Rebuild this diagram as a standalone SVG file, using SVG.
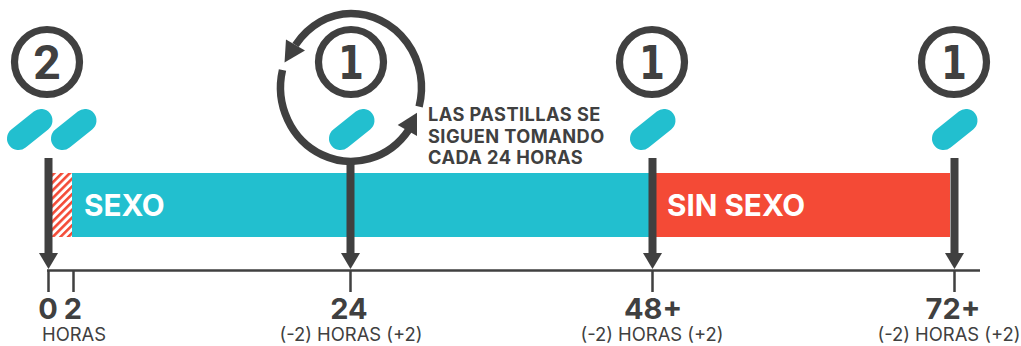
<svg xmlns="http://www.w3.org/2000/svg" width="1021" height="346" viewBox="0 0 1021 346">
<style>
text{font-family:"Inter","Liberation Sans",sans-serif;fill:#404040}
.ring{fill:none;stroke:#404040;stroke-width:7.2}
.two{font-family:"Roboto",sans-serif;font-weight:700;font-size:48px;text-anchor:middle}
.one{font-family:"DejaVu Sans",sans-serif;font-weight:700;font-size:46.5px;text-anchor:middle}
.pill{fill:none;stroke:#22BFCF;stroke-width:23;stroke-linecap:round}
.shaft{stroke:#404040;stroke-width:8;fill:none}
.head{fill:#404040}
.thin{stroke:#404040;stroke-width:2.5;fill:none}
.tick{font-weight:700;font-size:29px;text-anchor:middle}
.sub{font-size:18.4px;text-anchor:middle}
.note{font-weight:700;font-size:18.2px;letter-spacing:.45px}
.cyc{fill:none;stroke:#404040;stroke-width:7.5}
</style>
<defs>
<pattern id="hatch" width="5.5" height="5.5" patternUnits="userSpaceOnUse" patternTransform="rotate(-45)">
<rect width="5.5" height="5.5" fill="#fff"/>
<rect width="5.5" height="2.6" fill="#F44A36"/>
</pattern>
</defs>
<g id="bar">
<rect x="52" y="173" width="20" height="64" fill="url(#hatch)"/>
<rect x="72" y="173" width="580" height="64" fill="#22BFCF"/>
<rect x="652" y="173" width="298" height="64" fill="#F44A36"/>
<text x="84" y="215.500" style="fill:#fff;font-weight:700;font-size:29.7px">SEXO</text>
<text x="667" y="215.500" style="fill:#fff;font-weight:700;font-size:29.7px">SIN SEXO</text>
</g>
<g id="axis">
<path class="thin" d="M47 270.500H980M48.500 270V292M73.500 270V292M350.500 270V292M652.500 270V292M954.500 270V292"/>
</g>
<g id="connectors">
<path class="shaft" d="M48.500 158V254"/><polygon class="head" points="39,253 58,253 48.500,269"/>
<path class="shaft" d="M350.500 163V254"/><polygon class="head" points="341,253 360,253 350.500,269"/>
<path class="shaft" d="M652.500 158V254"/><polygon class="head" points="643,253 662,253 652.500,269"/>
<path class="shaft" d="M954.500 158V254"/><polygon class="head" points="945,253 964,253 954.500,269"/>
<path class="cyc" d="M419.100 106.600A70.500 74 0 0 0 351 13.500A70.500 82 0 0 0 295.500 45"/>
<polygon class="head" points="284.500,62.500 286,39.500 305,50.500"/>
<path class="cyc" d="M282.500 70A70.500 74 0 0 0 408.700 129.900"/>
<polygon class="head" points="417,112.700 397.700,125 417,136"/>
</g>
<g id="dose-0">
<circle class="ring" cx="47" cy="62" r="32.500"/><text class="two" x="47" y="79">2</text>
<path class="pill" d="M18.500 138.500L41 120.500"/><path class="pill" d="M62.500 138.500L85 120.500"/>
</g>
<g id="dose-24">
<circle class="ring" cx="351" cy="62" r="32.500"/><text class="one" transform="translate(351 79) scale(.8 1)">1</text>
<path class="pill" d="M340.500 138.500L363 120.500"/>
</g>
<g id="dose-48">
<circle class="ring" cx="652" cy="62" r="32.500"/><text class="one" transform="translate(652 79) scale(.8 1)">1</text>
<path class="pill" d="M641.500 138.500L664 120.500"/>
</g>
<g id="dose-72">
<circle class="ring" cx="954" cy="62" r="32.500"/><text class="one" transform="translate(954 79) scale(.8 1)">1</text>
<path class="pill" d="M943.500 138.500L966 120.500"/>
</g>
<g id="note">
<text class="note" x="428" y="121">LAS PASTILLAS SE</text>
<text class="note" x="428" y="143">SIGUEN TOMANDO</text>
<text class="note" x="428" y="164">CADA 24 HORAS</text>
</g>
<g id="labels">
<text class="tick" x="48" y="318.500">0</text>
<text class="tick" x="73" y="318.500">2</text>
<text class="tick" x="349" y="318.500">24</text>
<text class="tick" x="653" y="318.500">48+</text>
<text class="tick" x="953" y="318.500">72+</text>
<text class="sub" x="74" y="341">HORAS</text>
<text class="sub" x="351" y="341">(-2) HORAS (+2)</text>
<text class="sub" x="652" y="341">(-2) HORAS (+2)</text>
<text class="sub" x="949" y="341">(-2) HORAS (+2)</text>
</g>
</svg>
